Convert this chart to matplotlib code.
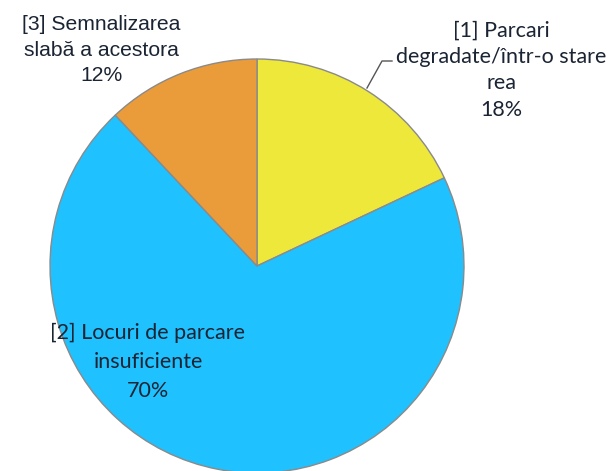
import matplotlib
matplotlib.use("Agg")
import matplotlib.pyplot as plt

labels = ["[1] Parcari\ndegradate/într-o stare\nrea",
          "[2] Locuri de parcare\ninsuficiente",
          "[3] Semnalizarea\nslabă a acestora"]
values = [18, 70, 12]
colors = ["#EDE83A", "#1FC1FF", "#EB9C3A"]

W, H = 611, 471
fig = plt.figure(figsize=(W / 100, H / 100), dpi=100)
ax = fig.add_axes([0, 0, 1, 1])

cx, cy, r = 257, H - 266, 207
ax.pie(values, colors=colors, startangle=90, counterclock=False,
       center=(cx, cy), radius=r, frame=True,
       wedgeprops=dict(edgecolor="#8a8a8a", linewidth=1.0))
ax.set_xlim(0, W)
ax.set_ylim(0, H)
ax.set_aspect("equal")
ax.axis("off")

txtcol = "#1a2433"
# label 3 (Arial-like)
ax.text(101, H - 50, labels[2] + "\n%d%%" % values[2],
        ha="center", va="center", fontsize=15.2, family="Liberation Sans",
        color=txtcol, linespacing=1.45)
# label 1 (Calibri-like)
ax.text(501, H - 70, labels[0] + "\n%d%%" % values[0],
        ha="center", va="center", fontsize=15.5, family="Lato",
        color=txtcol, linespacing=1.4)
# label 2
ax.text(148, H - 362, labels[1] + "\n%d%%" % values[1],
        ha="center", va="center", fontsize=15.5, family="Lato",
        color=txtcol, linespacing=1.56)
# leader line
ax.plot([392, 382, 367], [H - 61, H - 61, H - 88], color="#555555", lw=1)

fig.savefig("out.png", dpi=100)
